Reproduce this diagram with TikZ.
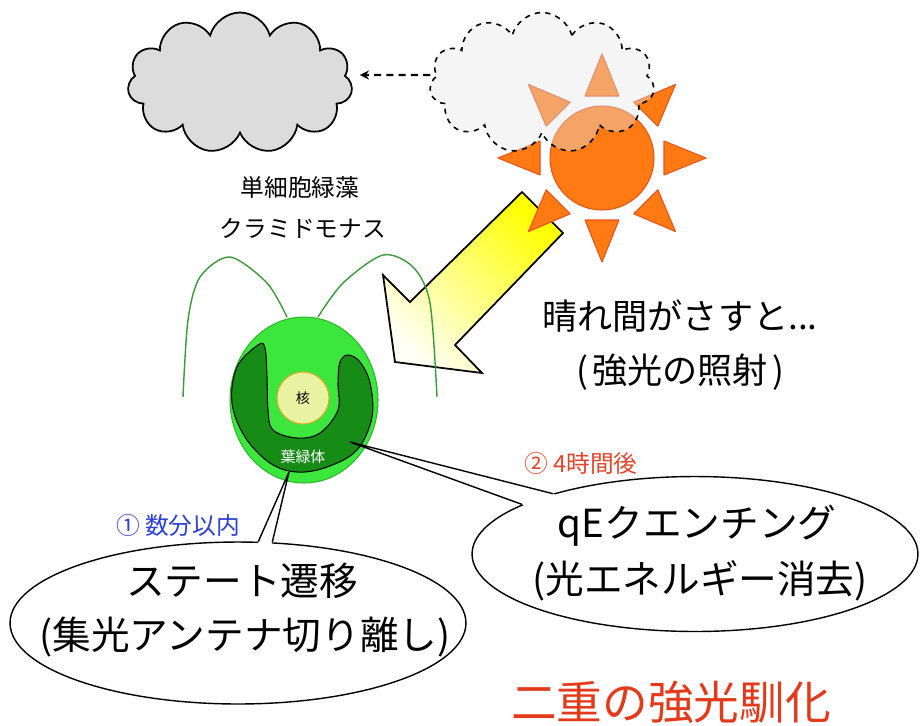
\documentclass[tikz,border=0pt]{standalone}
\usepackage{fontspec}
\setmainfont{Noto Sans CJK JP}
\usetikzlibrary{shapes.geometric,shapes.symbols,calc}
\definecolor{CloudGray}{HTML}{DCDCDC}
\definecolor{SunOrange}{HTML}{FF7A12}
\definecolor{SunEdge}{HTML}{E5541C}
\definecolor{CellGreen}{HTML}{3CE63C}
\definecolor{CellEdge}{HTML}{2DB52D}
\definecolor{ChloroGreen}{HTML}{168C16}
\definecolor{NucleusFill}{HTML}{E8F4A2}
\definecolor{NucleusEdge}{HTML}{E0A92B}
\definecolor{FlagGreen}{HTML}{3A9A3A}
\definecolor{StepBlue}{HTML}{2B3FD6}
\definecolor{StepRed}{HTML}{E2452B}
\definecolor{TitleRed}{HTML}{E23A1A}

\begin{document}
\begin{tikzpicture}[x=0.02cm,y=-0.02cm,
    puffcloud/.style={cloud, cloud puffs=11, aspect=1.6, inner sep=0pt,
      minimum width=4.5cm, minimum height=2.82cm},
    ray/.style={fill=SunOrange, draw=SunEdge, line width=0.6pt, line join=round},
    lightbeam/.style={draw=black, line width=1pt, line join=miter,
      top color=yellow, bottom color=yellow!4, shading angle=-45},
    flagellum/.style={draw=FlagGreen, line width=0.8pt},
    bubble/.style={ellipse, draw, fill=white, line width=0.8pt},
    smalltext/.style={font=\fontsize{13.5}{16}\selectfont},
    midtext/.style={font=\fontsize{20}{24}\selectfont},
    bigtext/.style={font=\fontsize{22}{26}\selectfont}]
  \useasboundingbox (0,0) rectangle (920,725);

  % clouds and sun
  \node[puffcloud, draw, fill=CloudGray, line width=1pt] (cloudL) at (240,83) {};

  \draw[lightbeam] (522,192) -- (563,233) -- (455,345) -- (482,373)
    -- (395,362) -- (383,275) -- (410,302) -- cycle;

  \node[circle, fill=SunOrange, draw=SunEdge, line width=0.6pt,
    minimum size=2.08cm] (sun) at (602,158) {};
  \foreach \a in {0,45,...,315}
    \draw[ray] ($(sun.center)+(\a:62)+(\a+90:17)$) -- ($(sun.center)+(\a:104)$)
      -- ($(sun.center)+(\a:62)+(\a-90:17)$) -- cycle;

  \node[puffcloud, draw, dashed, line width=0.9pt, fill=gray!20,
    fill opacity=0.4] (cloudR) at (542,83) {};
  \draw[->, >=stealth, dash pattern=on 4pt off 3pt, line width=1.3pt]
    ([yshift=0.16cm]cloudR.west) -- ([yshift=0.16cm,xshift=0.16cm]cloudL.east);

  % alga
  \draw[flagellum] plot[smooth] coordinates
    {(287,317) (267,283) (230,257) (200,277) (188,320) (183,397)};
  \draw[flagellum] plot[smooth] coordinates
    {(318,317) (343,283) (383,255) (413,267) (430,303) (437,397)};

  \node[ellipse, fill=CellGreen, draw=CellEdge, line width=0.6pt,
    minimum width=2.96cm, minimum height=3.32cm] (cell) at (304,400) {};
  \draw[fill=ChloroGreen, line width=0.6pt] plot[smooth cycle, tension=0.6] coordinates
    {(258,345) (237,367) (232,403) (245,437) (270,463) (297,472) (327,467)
     (357,450) (372,417) (370,383) (360,362) (348,355) (340,362) (338,383)
     (338,410) (320,433) (297,438) (273,430) (268,410) (267,377) (265,348)};
  \node[circle, fill=NucleusFill, draw=NucleusEdge, line width=0.6pt,
    minimum size=1.04cm, inner sep=0pt, font=\fontsize{8}{9}\selectfont]
    (nucleus) at (303,398) {核};
  \node[text=white, font=\fontsize{8.5}{10}\selectfont] (chloro) at (303,457) {葉緑体};

  \node[smalltext] (algaName) at (300,187) {単細胞緑藻};
  \node[smalltext] (algaKana) at (303,228) {クラミドモナス};

  \node[midtext] (sunnyA) at (680,316) {晴れ間がさすと...};
  \node[midtext] (sunnyB) at (680,372) {(\hspace{0.12em}強光の照射\hspace{0.12em})};

  % callouts
  \coordinate (tipL) at (289,472);
  \coordinate (tipR) at (350,442);

  \node[bubble, minimum width=9.12cm, minimum height=3.24cm] (callL) at (238,623) {};
  \fill[white] ($(callL.76)!3pt!(callL.center)$) -- (callL.76) -- (tipL)
    -- (callL.67) -- ($(callL.67)!3pt!(callL.center)$) -- cycle;
  \draw[line width=0.8pt] (callL.76) -- (tipL) -- (callL.67);

  \node[bubble, minimum width=8.92cm, minimum height=3.1cm] (callR) at (695,554) {};
  \fill[white] ($(callR.164)!3pt!(callR.center)$) -- (callR.164) -- (tipR)
    -- (callR.157) -- ($(callR.157)!3pt!(callR.center)$) -- cycle;
  \draw[line width=0.8pt] (callR.164) -- (tipR) -- (callR.157);

  \node[bigtext] (stateA) at (242,581) {ステート遷移};
  \node[bigtext] (stateB) at (245,637) {(集光アンテナ切り離し)};
  \node[bigtext] (qeA) at (697,526) {qEクエンチング};
  \node[bigtext] (qeB) at (700,581) {(光エネルギー消去)};

  \node[smalltext, text=StepBlue] (stepA) at (178,525) {① 数分以内};
  \node[smalltext, text=StepRed] (stepB) at (581,463) {② 4時間後};

  \node[text=TitleRed, font=\fontsize{26}{30}\selectfont] (title) at (671,702) {二重の強光馴化};
\end{tikzpicture}
\end{document}
